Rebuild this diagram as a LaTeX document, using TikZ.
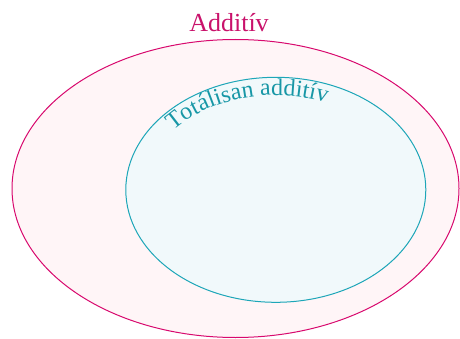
\documentclass[tikz,border=0pt]{standalone}
\usepackage{fontspec}
\setmainfont{Liberation Serif}
\usetikzlibrary{decorations.text}
\definecolor{magline}{HTML}{D8096E}
\definecolor{magfill}{HTML}{FFF5F7}
\definecolor{magtext}{HTML}{C9126B}
\definecolor{tealline}{HTML}{1DA6B8}
\definecolor{tealfill}{HTML}{F1F9FB}
\definecolor{tealtext}{HTML}{1797A6}
\tikzset{
  outerset/.style={draw=magline, fill=magfill, line width=1pt},
  innerset/.style={draw=tealline, fill=tealfill, line width=1pt},
  outerlabel/.style={text=magtext, font=\fontsize{26}{26}\selectfont, inner sep=0pt, anchor=base}
}
\begin{document}
\begin{tikzpicture}[x=1pt,y=1pt]
\useasboundingbox (0,0) rectangle (460,338);
\draw[outerset] (235.5,149.5) ellipse [x radius=223.5, y radius=149];
\draw[innerset] (275.8,148.2) ellipse [x radius=150, y radius=112.5];
\node[outerlabel] (additiv) at (229,306) {Additív};
\path[decorate, decoration={text along path, text align=left,
  text={|\color{tealtext}\fontsize{24}{24}\selectfont|Totálisan additív}}]
  (275.8,148.2) ++(141:132 and 94.5)
  arc[start angle=141, end angle=30, x radius=132, y radius=94.5];
\end{tikzpicture}
\end{document}
